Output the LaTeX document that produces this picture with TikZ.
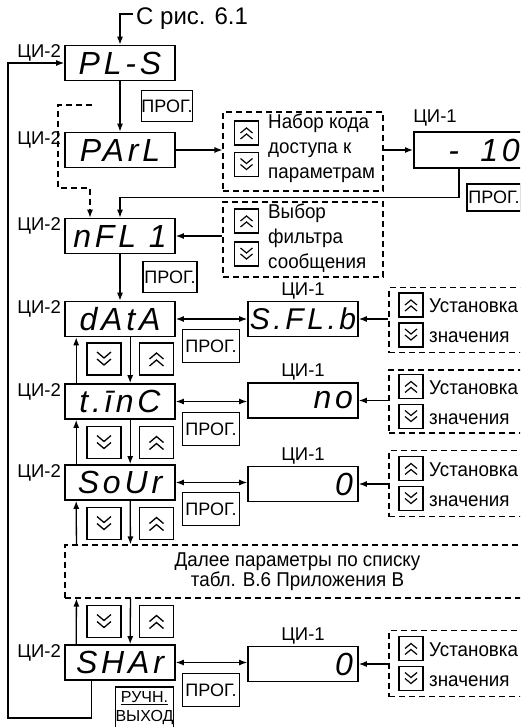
\documentclass[tikz,border=0pt]{standalone}
\usepackage{fontspec}
\setmainfont{Liberation Sans}
\newfontfamily\narrowfont{Liberation Sans}[FakeStretch=0.94]
\newfontfamily\segfont{Liberation Sans}[LetterSpace=12]
\usetikzlibrary{arrows.meta}
\tikzset{
  disp/.style={draw, line width=1.6pt, minimum width=110pt, minimum height=35pt, inner sep=0pt,
    font=\segfont\itshape\fontsize{32}{32}\selectfont},
  dispr/.style={disp, text width=100pt, align=right, inner xsep=5pt},
  prog/.style={draw, line width=1.3pt, minimum width=54pt, minimum height=31pt, inner sep=0pt,
    font=\fontsize{18}{18}\selectfont},
  lab/.style={font=\fontsize{18.5}{18.5}\selectfont, inner sep=0pt},
  dbox/.style={draw, dash pattern=on 6pt off 4pt, line width=1.1pt, inner sep=0pt},
  desc/.style={font=\narrowfont\fontsize{20}{25}\selectfont, align=left, inner sep=0pt, anchor=north west},
  desc2/.style={font=\narrowfont\fontsize{20}{30}\selectfont, align=left, inner sep=0pt, anchor=west},
  arr/.style={line width=1.3pt, -{Latex[length=8pt,width=6pt]}},
  darr/.style={line width=1.3pt, {Latex[length=8pt,width=6pt]}-{Latex[length=8pt,width=6pt]}},
  dasharr/.style={arr, dash pattern=on 6pt off 4pt},
  upsm/.pic={\draw[line width=1.2pt] (-12,-12) rectangle (12,12);
             \draw[line width=1.2pt] (-6,0)--(0,-5)--(6,0) (-6,6)--(0,1)--(6,6);},
  dnsm/.pic={\draw[line width=1.2pt] (-12,-12) rectangle (12,12);
             \draw[line width=1.2pt] (-6,-6)--(0,-1)--(6,-6) (-6,0)--(0,5)--(6,0);},
  upbig/.pic={\draw[line width=1.3pt] (-17,-16) rectangle (17,16);
             \draw[line width=1.3pt] (-7,0)--(0,-6)--(7,0) (-7,7)--(0,1)--(7,7);},
  dnbig/.pic={\draw[line width=1.3pt] (-17,-16) rectangle (17,16);
             \draw[line width=1.3pt] (-7,-7)--(0,-1)--(7,-7) (-7,0)--(0,6)--(7,0);},
}
\begin{document}
\begin{tikzpicture}[x=1pt,y=-1pt]
\useasboundingbox (0,0) rectangle (520,727);
\fill[white] (0,0) rectangle (520,727);
\clip (0,0) rectangle (520,727);

% top entry
\node[lab, anchor=west, font=\fontsize{24}{24}\selectfont] (crt) at (136,19) {С рис. 6.1};
\coordinate (cr) at (133,14);

% left displays
\node[disp] (pls)  at (120,63)    {PL-S};
\node[disp] (parl) at (120,150)   {PArL};
\node[disp] (nfl)  at (120,236)   {nFL 1};
\node[disp] (data) at (120,319)   {dAtA};
\node[disp] (tinc) at (120,401.5) {t.īnC};
\node[disp] (sour) at (120,482.5) {SoUr};
\node[disp] (shar) at (120,662.5) {SHAr};

\node[lab, anchor=east] (l1) at (61,53)  {ЦИ-2};
\node[lab, anchor=east] (l2) at (61,140) {ЦИ-2};
\node[lab, anchor=east] (l3) at (61,226) {ЦИ-2};
\node[lab, anchor=east] (l4) at (61,309) {ЦИ-2};
\node[lab, anchor=east] (l5) at (61,391.5) {ЦИ-2};
\node[lab, anchor=east] (l6) at (61,472.5) {ЦИ-2};
\node[lab, anchor=east] (l7) at (61,652.5) {ЦИ-2};

% right displays
\node[dispr, minimum width=122pt, text width=90pt, inner xsep=16pt, minimum height=36pt, anchor=west] (m10) at (413,150) {-\ \ 10};
\node[lab] (k0) at (435,118) {ЦИ-1};
\node[disp] (sflb) at (303,319) {\fontsize{30}{30}\selectfont S.FL.b};
\node[dispr] (no)  at (303,400.5) {no};
\node[dispr] (z1)  at (303,484) {0};
\node[dispr] (z2)  at (303,664) {0};
\node[lab] (k1) at (303,290.5) {ЦИ-1};
\node[lab] (k2) at (303,372)   {ЦИ-1};
\node[lab] (k3) at (303,455.5) {ЦИ-1};
\node[lab] (k4) at (303,635.5) {ЦИ-1};

% PROG buttons
\node[prog, minimum width=48pt] (p1) at (167,106)   {ПРОГ.};
\node[prog, minimum height=27pt] (p2) at (494,197.5) {ПРОГ.};
\node[prog] (p3) at (170,277)   {ПРОГ.};
\node[prog, minimum width=57pt, minimum height=33pt] (p4) at (211,346)   {ПРОГ.};
\node[prog, minimum width=57pt, minimum height=33pt] (p5) at (211,429)   {ПРОГ.};
\node[prog, minimum width=57pt, minimum height=33pt] (p6) at (211,509)   {ПРОГ.};
\node[prog, minimum width=57pt, minimum height=33pt] (p7) at (211,690)   {ПРОГ.};

% manual exit
\node[draw, line width=1.3pt, minimum width=57pt, minimum height=42pt, inner sep=0pt, align=center,
      font=\fontsize{16}{19}\selectfont] (ruch) at (144.5,708) {\underline{РУЧН.}\\ВЫХОД};

% dashed boxes upper
\node[dbox, minimum width=160pt, minimum height=79pt] (b1) at (303,151.5) {};
\pic at (246.5,133) {upsm};
\pic at (246.5,164.5) {dnsm};
\node[desc] (t1) at (268,114) {Набор кода\\доступа к\\параметрам};

\node[dbox, minimum width=160pt, minimum height=75pt] (b2) at (303,239.5) {};
\pic at (246.5,221) {upsm};
\pic at (246.5,254) {dnsm};
\node[desc] (t2) at (268,204) {Выбор\\фильтра\\сообщения};

% dashed boxes right
\node[dbox, minimum width=141pt, minimum height=65pt] (r1) at (459.5,320) {};
\node[dbox, minimum width=141pt, minimum height=63pt] (r2) at (459.5,401.5) {};
\node[dbox, minimum width=141pt, minimum height=66pt] (r3) at (459.5,483.5) {};
\node[dbox, minimum width=141pt, minimum height=66pt] (r4) at (459.5,663.5) {};
\foreach \c/\n in {320/1,401.5/2,483.5/3,663.5/4}{
  \pic at (411,\c-15) {upsm};
  \pic at (411,\c+15) {dnsm};
  \node[desc2] (u\n) at (429,\c+1) {Установка\\значения};
}

% big dashed box
\node[dbox, minimum width=465pt, minimum height=53pt, align=center,
      font=\narrowfont\fontsize{20}{20}\selectfont] (big) at (297.5,571.5)
      {Далее параметры по списку\\табл. В.6 Приложения В};

% left column navigation buttons
\foreach \c in {359,442.5,523.5,621.5}{
  \pic at (104,\c) {dnbig};
  \pic at (156.5,\c) {upbig};
}

% connectors
\draw[arr] (cr) -| (pls.north);
\draw[arr] (pls) -- (parl);
\coordinate (bp) at (92,105);
\draw[dasharr] (bp) -- (58,105) -- (58,188) -| ([xshift=-30pt]nfl.north);
\draw[arr] (parl.east) -- (parl.east -| b1.west);
\draw[arr] (m10.west -| b1.east) -- (m10.west);
\draw[arr] ([xshift=46pt]m10.south west) -- ++(0,29) -| (nfl.north);
\draw[arr] (nfl.east -| b2.west) -- (nfl.east);
\draw[arr] (nfl) -- (data);

\draw[darr] (data) -- (sflb);
\draw[darr] (tinc.east) -- (tinc.east -| no.west);
\draw[darr] (sour.east) -- (sour.east -| z1.west);
\draw[darr] (shar.east) -- (shar.east -| z2.west);
\draw[arr] (sflb.east -| r1.west) -- (sflb.east);
\draw[arr] (no.east -| r2.west) -- (no.east);
\draw[arr] (z1.east -| r3.west) -- (z1.east);
\draw[arr] (z2.east -| r4.west) -- (z2.east);

\draw[arr] ([xshift=12pt]tinc.north west) -- ([xshift=12pt]data.south west);
\draw[arr] ([xshift=66pt]data.south west) -- ([xshift=66pt]tinc.north west);
\draw[arr] ([xshift=12pt]sour.north west) -- ([xshift=12pt]tinc.south west);
\draw[arr] ([xshift=66pt]tinc.south west) -- ([xshift=66pt]sour.north west);
\draw[arr] ([xshift=12pt]big.north west) -- ([xshift=12pt]sour.south west);
\draw[arr] ([xshift=66pt]sour.south west) -- ([xshift=66pt]big.north west);
\draw[arr] ([xshift=12pt]shar.north west) -- ([xshift=12pt]big.south west);
\draw[arr] ([xshift=66pt]big.south west) -- ([xshift=66pt]shar.north west);

\coordinate (lc) at (8,718);
\draw[arr] ([xshift=27pt]shar.south west) |- (lc) |- (pls.west);
\end{tikzpicture}
\end{document}
